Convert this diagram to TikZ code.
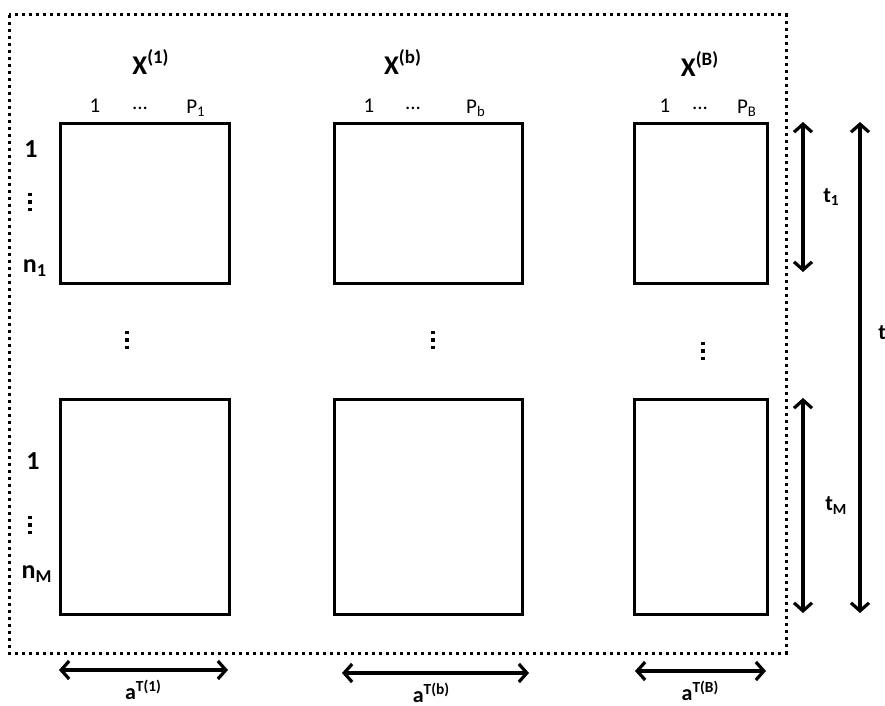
\documentclass[tikz,border=0pt]{standalone}
\usepackage{fontspec}
\setmainfont{Carlito}
\usetikzlibrary{arrows.meta,positioning}

\newcommand{\dotsat}[2]{\foreach \dy in {-7.5,0,7.5} {\fill (#1,#2+\dy) ++(-1.7,-1.7) rectangle ++(3.4,3.4);}}

\begin{document}
\begin{tikzpicture}[x=0.5pt,y=-0.5pt]
\tikzstyle{block} = [rectangle, draw, line width=1.5pt, inner sep=0pt, anchor=north west]
\tikzstyle{title} = [font=\fontsize{13.5}{15}\selectfont\bfseries]
\tikzstyle{colidx} = [font=\fontsize{10.5}{12}\selectfont]
\tikzstyle{rowidx} = [font=\fontsize{13}{15}\selectfont\bfseries]
\tikzstyle{dimlabel} = [font=\fontsize{11}{13}\selectfont\bfseries]
\tikzstyle{dim} = [draw, line width=1.6pt, {Straight Barb[length=4pt,width=9pt]}-{Straight Barb[length=4pt,width=9pt]}]
\useasboundingbox (0,0) rectangle (885,706);

% frame
\draw[dotted, line width=1.5pt] (9,15) rectangle (786,653);

% row 1
\node [block, minimum width=84.5pt, minimum height=80pt] (x1top) at (59,122) {};
\node [block, minimum width=94pt, minimum height=80pt] (xbtop) at (333,122) {};
\node [block, minimum width=66.5pt, minimum height=80pt] (xBtop) at (633,122) {};
% row M
\node [block, minimum width=84.5pt, minimum height=107.5pt] (x1bot) at (59,398) {};
\node [block, minimum width=94pt, minimum height=107.5pt] (xbbot) at (333,398) {};
\node [block, minimum width=66.5pt, minimum height=107.5pt] (xBbot) at (633,398) {};

% titles
\node [title] (t1) at (151,62) {X\textsuperscript{(1)}};
\node [title] (tb) at (403,62) {X\textsuperscript{(b)}};
\node [title] (tB) at (700,64) {X\textsuperscript{(B)}};

% column indices
\node [colidx] (c11) at (95,106) {1};
\node [colidx] (c12) at (140,108) {...};
\node [colidx] (c13) at (196,108) {P\textsubscript{1}};
\node [colidx] (cb1) at (369,106) {1};
\node [colidx] (cb2) at (413,108) {...};
\node [colidx] (cb3) at (476,108) {P\textsubscript{b}};
\node [colidx] (cB1) at (665,106) {1};
\node [colidx] (cB2) at (700,108) {...};
\node [colidx] (cB3) at (747,108) {P\textsubscript{B}};

% row indices
\node [rowidx] (r11) at (31,149) {1};
\node [rowidx] (r13) at (35,268) {n\textsubscript{1}};
\node [rowidx] (rM1) at (33,461) {1};
\node [rowidx] (rM3) at (37,574) {n\textsubscript{M}};
\dotsat{30}{202}
\dotsat{30}{525}

% middle dots
\dotsat{127}{340}
\dotsat{433}{340}
\dotsat{703}{351}

% dimension arrows
\coordinate (t1s) at (803,122);
\coordinate (t1e) at (803,272);
\coordinate (tMs) at (803,398);
\coordinate (tMe) at (803,613);
\coordinate (ts) at (860,122);
\coordinate (te) at (860,613);
\coordinate (a1s) at (59,670);
\coordinate (a1e) at (228,670);
\coordinate (abs) at (342,673);
\coordinate (abe) at (529,673);
\coordinate (aBs) at (635,671);
\coordinate (aBe) at (766,671);

\tikzstyle{every path}=[dim]
\path (t1s) -- node [dimlabel, right=6pt] {t\textsubscript{1}} (t1e);
\path (tMs) -- node [dimlabel, right=7pt] {t\textsubscript{M}} (tMe);
\path (ts) -- node [dimlabel, right=5pt, pos=0.43] {t} (te);
\path (a1s) -- node [dimlabel, below=1pt] {a\textsuperscript{T(1)}} (a1e);
\path (abs) -- node [dimlabel, below=1pt, xshift=-2pt] {a\textsuperscript{T(b)}} (abe);
\path (aBs) -- node [dimlabel, below=1pt] {a\textsuperscript{T(B)}} (aBe);

\end{tikzpicture}
\end{document}
